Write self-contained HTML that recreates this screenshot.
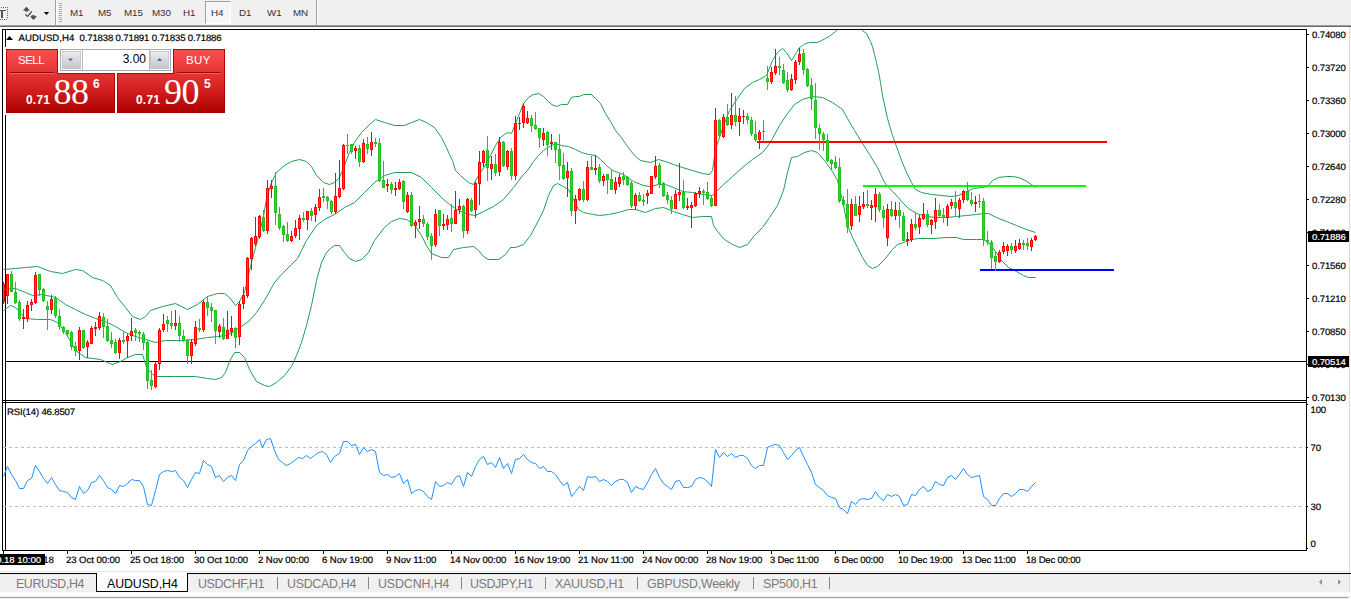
<!DOCTYPE html>
<html lang="en">
<head>
<meta charset="utf-8">
<title>AUDUSD,H4</title>
<style>
html,body{margin:0;padding:0;}
body{width:1351px;height:599px;overflow:hidden;background:#f0f0f0;position:relative;font-family:"Liberation Sans",Arial,sans-serif;}
.abs{position:absolute;}
#toolbar{left:0;top:0;width:1351px;height:25px;background:#f0f0f0;}
#tb-l1{left:0;top:25px;width:1351px;height:1px;background:#a0a0a0;}
#tb-l2{left:0;top:26px;width:1351px;height:1px;background:#696969;}
#white{left:0;top:27px;width:1349px;height:547px;background:#fff;}
#rgt{left:1349px;top:27px;width:1px;height:566px;background:#dcdcdc;}
#rgt2{left:1350px;top:27px;width:1px;height:572px;background:#fafafa;}
.tf{position:absolute;top:7.4px;font-size:9.8px;letter-spacing:-0.1px;color:#333;line-height:11px;white-space:nowrap;}
.vsep{position:absolute;top:0;width:1px;height:25px;background:#a0a0a0;}
.vsepw{position:absolute;top:0;width:1px;height:25px;background:#fff;}
#h4btn{left:205px;top:1px;width:24px;height:21px;border-top:1px solid #a0a0a0;border-left:1px solid #a0a0a0;border-right:1px solid #fff;border-bottom:1px solid #fff;background:#f6f6f6;box-sizing:content-box;}
#grip{left:59px;top:3px;width:3px;height:19px;background:repeating-linear-gradient(to bottom,#a8a8a8 0,#a8a8a8 1px,#f4f4f4 1px,#f4f4f4 2px);}
/* trade panel */
#pwhite{left:3px;top:47px;width:224px;height:68px;background:#fff;}
.red{background:linear-gradient(to bottom,#fb5252 0px,#e63434 24px,#d42020 40px,#ae0000 64px);background-size:100% 64px;}
#sellTab{left:6px;top:49px;width:52px;height:24px;}
#buyTab{left:173px;top:49px;width:52px;height:24px;}
#sellBlk{left:6px;top:73px;width:109px;height:40px;background-position:0 -24px;}
#buyBlk{left:117px;top:73px;width:108px;height:40px;background-position:0 -24px;}
.ptxt{position:absolute;color:#fff;white-space:nowrap;}
#vol{left:60px;top:49px;width:109px;height:20px;border:1px solid #a8a8b0;background:#fff;}
.spin{position:absolute;top:1px;width:19px;height:18px;background:linear-gradient(to bottom,#ececec,#c6c6c6);border:1px solid #c8c8c8;box-sizing:border-box;}
/* tab bar */
#tabbar{left:0;top:574px;width:1349px;height:25px;background:#f0f0f0;}
#tabline{left:0;top:573px;width:1351px;height:1px;background:#000;}
#tabtop{left:0;top:571px;width:1349px;height:1px;background:#e4e4e4;}
#acttab{left:96px;top:573px;width:90px;height:18px;background:#fff;border-left:1px solid #000;border-right:1px solid #000;border-bottom:1px solid #000;}
.tab{position:absolute;top:577px;font-size:12.4px;letter-spacing:-0.42px;color:#7b7b7b;line-height:14px;white-space:nowrap;}
.tsep{position:absolute;top:577px;width:1px;height:12px;background:#8a8a8a;}
#bl1{left:0;top:592px;width:1351px;height:5px;background:linear-gradient(#f6f6f6 0,#fdfdfd 1px,#fdfdfd 4px,#e0e0e0 5px);}
#bl2{left:0;top:597px;width:1348px;height:1px;background:#a0a0a0;}
#bl3{left:0;top:598px;width:1348px;height:1px;background:#f0f0f0;}
</style>
</head>
<body>
<div id="toolbar" class="abs">
  <svg class="abs" style="left:0;top:6px" width="10" height="16" viewBox="0 0 10 16" shape-rendering="crispEdges">
    <rect x="0" y="4" width="6" height="1" fill="#555"/><rect x="1" y="4" width="2" height="8" fill="#555"/>
    <g fill="#666"><rect x="1" y="1" width="1" height="1"/><rect x="3" y="1" width="1" height="1"/><rect x="5" y="1" width="1" height="1"/><rect x="7" y="1" width="1" height="1"/>
    <rect x="7" y="3" width="1" height="1"/><rect x="7" y="5" width="1" height="1"/><rect x="7" y="7" width="1" height="1"/><rect x="7" y="9" width="1" height="1"/><rect x="7" y="11" width="1" height="1"/>
    <rect x="0" y="13" width="1" height="1"/><rect x="2" y="13" width="1" height="1"/><rect x="4" y="13" width="1" height="1"/><rect x="6" y="13" width="1" height="1"/></g>
  </svg>
  <svg class="abs" style="left:22px;top:6px" width="30" height="16" viewBox="0 0 30 16">
    <polygon points="4.4,0.7 8,4.5 6,4.5 6,5.5 2.9,5.5 2.9,4.5 0.9,4.5" fill="#505050"/>
    <polygon points="11.3,14 15.1,10.2 13,10.2 13,9.2 9.5,9.2 9.5,10.2 8,10.2" fill="#505050"/>
    <polyline points="3.1,8.4 5.6,10.4 9.8,5.3" fill="none" stroke="#444" stroke-width="1.2"/>
    <polygon points="21.8,6 27.1,6 24.5,9" fill="#000"/>
  </svg>
  <div class="vsep" style="left:55px"></div><div class="vsepw" style="left:56px"></div>
  <div id="grip" class="abs"></div>
  <div id="h4btn" class="abs"></div>
  <span class="tf" style="left:70px">M1</span>
  <span class="tf" style="left:98px">M5</span>
  <span class="tf" style="left:124px">M15</span>
  <span class="tf" style="left:152px">M30</span>
  <span class="tf" style="left:183px">H1</span>
  <span class="tf" style="left:211px">H4</span>
  <span class="tf" style="left:239px">D1</span>
  <span class="tf" style="left:267px">W1</span>
  <span class="tf" style="left:293px">MN</span>
  <div class="vsep" style="left:316px"></div><div class="vsepw" style="left:317px"></div>
</div>
<div id="tb-l1" class="abs"></div><div id="tb-l2" class="abs"></div>
<div id="white" class="abs"></div><div id="rgt" class="abs"></div><div id="rgt2" class="abs"></div>
<svg id="chart" width="1351" height="599" viewBox="0 0 1351 599" style="position:absolute;left:0;top:0">
<defs><clipPath id="cm"><rect x="3" y="30" width="1303" height="370"/></clipPath><clipPath id="cr"><rect x="3" y="403" width="1303" height="147"/></clipPath></defs>
<g shape-rendering="crispEdges" fill="#000">
<rect x="2" y="29" width="1305" height="1"/>
<rect x="2" y="29" width="1" height="522"/>
<rect x="1306" y="29" width="1" height="522"/>
<rect x="2" y="400" width="1305" height="1"/>
<rect x="2" y="402" width="1305" height="1"/>
<rect x="2" y="550" width="1305" height="1"/>
<rect x="5" y="29" width="1" height="522"/>
<rect x="6" y="361" width="1301" height="1"/>
</g>
<g stroke="#c0c0c0" stroke-width="1" stroke-dasharray="3,3" shape-rendering="crispEdges"><line x1="3" y1="447.5" x2="1306" y2="447.5"/><line x1="3" y1="506.5" x2="1306" y2="506.5"/></g>
<polyline clip-path="url(#cm)" fill="none" stroke="#1fa055" stroke-width="1" stroke-linejoin="round" points="3.5,269.5 15.5,268.5 25.5,267.5 37.5,266.5 50.5,271.5 62.5,273.5 75.5,269.5 82.5,270.5 92.5,277.5 102.5,280.5 110.5,285.5 117.5,297.5 125.5,307.5 132.5,316.5 140.5,319.5 145.5,316.5 150.5,310.5 162.5,306.5 175.5,303.5 187.5,309.5 197.5,304.5 207.5,296.5 217.5,293.5 224.5,293.5 229.5,297.5 235.5,305.5 239.5,301.5 244.5,292.5 249.5,270.5 252.5,258.5 255.5,247.5 259.5,232.5 263.5,216.5 266.5,198.5 271.5,182.5 276.5,172.5 284.5,165.5 291.5,161.5 299.5,159.5 306.5,161.5 311.5,166.5 316.5,175.5 323.5,182.5 329.5,184.5 334.5,182.5 339.5,177.5 344.5,165.5 349.5,152.5 354.5,142.5 361.5,132.5 369.5,124.5 375.5,119.5 384.5,122.5 394.5,125.5 404.5,125.5 411.5,122.5 419.5,119.5 426.5,122.5 434.5,127.5 441.5,137.5 446.5,147.5 449.5,154.5 452.5,160.5 455.5,170.5 460.5,175.5 468.5,182.5 473.5,184.5 478.5,175.5 484.5,166.5 490.5,155.5 495.5,145.5 500.5,137.5 505.5,133.5 508.5,132.5 511.5,133.5 515.5,123.5 519.5,113.5 523.5,103.5 528.5,97.5 533.5,94.5 538.5,93.5 543.5,96.5 548.5,101.5 551.5,104.5 556.5,106.5 561.5,104.5 567.5,104.5 571.5,97.5 575.5,96.5 579.5,96.5 583.5,94.5 591.5,94.5 595.5,98.5 600.5,103.5 605.5,113.5 610.5,121.5 615.5,130.5 620.5,136.5 625.5,143.5 630.5,150.5 635.5,156.5 640.5,160.5 650.5,162.5 658.5,159.5 665.5,161.5 673.5,164.5 682.5,167.5 692.5,170.5 702.5,173.5 709.5,174.5 712.5,170.5 713.5,163.5 715.5,148.5 718.5,140.5 722.5,128.5 729.5,110.5 737.5,98.5 744.5,88.5 752.5,82.5 759.5,79.5 766.5,75.5 772.5,60.5 777.5,52.5 782.5,48.5 786.5,52.5 791.5,60.5 796.5,52.5 799.5,47.5 802.5,45.5 805.5,43.5 810.5,42.5 817.5,42.5 821.5,40.5 825.5,38.5 830.5,35.5 835.5,31.5 837.5,29.5 840.5,26.5 850.5,22.5 858.5,25.5 862.5,30.5 866.5,33.5 870.5,41.5 872.5,46.5 874.5,54.5 876.5,62.5 878.5,71.5 880.5,82.5 882.5,95.5 887.5,118.5 892.5,135.5 896.5,146.5 901.5,160.5 906.5,172.5 911.5,182.5 915.5,189.5 921.5,192.5 931.5,194.5 941.5,195.5 951.5,196.5 958.5,195.5 966.5,191.5 973.5,188.5 981.5,187.5 987.5,186.5 992.5,180.5 998.5,177.5 1006.5,176.5 1012.5,176.5 1018.5,177.5 1025.5,180.5 1031.5,184.5 1035.5,187.5"/>
<polyline clip-path="url(#cm)" fill="none" stroke="#1fa055" stroke-width="1" stroke-linejoin="round" points="3.5,289.5 15.5,288.5 25.5,292.5 32.5,295.5 42.5,294.5 55.5,297.5 65.5,304.5 75.5,309.5 85.5,314.5 95.5,318.5 105.5,321.5 115.5,326.5 125.5,332.5 135.5,336.5 145.5,339.5 155.5,342.5 165.5,340.5 180.5,340.5 195.5,339.5 207.5,337.5 217.5,336.5 225.5,335.5 232.5,332.5 239.5,327.5 241.5,326.5 249.5,320.5 256.5,312.5 264.5,300.5 274.5,282.5 281.5,274.5 291.5,264.5 297.5,258.5 301.5,250.5 306.5,240.5 316.5,225.5 324.5,219.5 334.5,214.5 344.5,207.5 354.5,202.5 364.5,192.5 374.5,182.5 384.5,175.5 394.5,172.5 411.5,172.5 421.5,177.5 431.5,187.5 441.5,197.5 449.5,204.5 458.5,210.5 468.5,214.5 475.5,215.5 483.5,211.5 493.5,206.5 503.5,199.5 513.5,187.5 523.5,174.5 527.5,170.5 533.5,161.5 538.5,155.5 543.5,150.5 547.5,147.5 555.5,143.5 561.5,145.5 568.5,146.5 575.5,149.5 581.5,152.5 588.5,154.5 595.5,155.5 600.5,159.5 606.5,165.5 612.5,170.5 623.5,174.5 633.5,181.5 643.5,185.5 650.5,186.5 658.5,184.5 665.5,184.5 673.5,187.5 682.5,191.5 692.5,192.5 702.5,194.5 712.5,195.5 717.5,190.5 722.5,185.5 732.5,176.5 742.5,167.5 752.5,159.5 762.5,152.5 767.5,146.5 772.5,138.5 779.5,125.5 787.5,113.5 794.5,104.5 802.5,99.5 812.5,96.5 822.5,97.5 832.5,102.5 842.5,109.5 847.5,118.5 854.5,130.5 862.5,143.5 869.5,154.5 877.5,167.5 884.5,182.5 892.5,191.5 897.5,196.5 901.5,201.5 908.5,208.5 916.5,213.5 926.5,216.5 936.5,217.5 946.5,217.5 956.5,216.5 966.5,215.5 976.5,214.5 983.5,213.5 988.5,213.5 996.5,217.5 1006.5,221.5 1016.5,225.5 1026.5,229.5 1035.5,232.5"/>
<polyline clip-path="url(#cm)" fill="none" stroke="#1fa055" stroke-width="1" stroke-linejoin="round" points="3.5,310.5 10.5,305.5 15.5,307.5 25.5,318.5 37.5,319.5 50.5,319.5 57.5,322.5 65.5,332.5 75.5,350.5 85.5,357.5 100.5,359.5 107.5,362.5 112.5,364.5 120.5,361.5 127.5,357.5 135.5,354.5 142.5,354.5 146.5,367.5 150.5,372.5 155.5,376.5 175.5,376.5 195.5,376.5 207.5,378.5 215.5,379.5 221.5,377.5 225.5,372.5 229.5,361.5 234.5,352.5 239.5,352.5 244.5,357.5 249.5,369.5 256.5,381.5 264.5,385.5 269.5,386.5 276.5,382.5 284.5,375.5 291.5,366.5 296.5,355.5 301.5,342.5 306.5,325.5 311.5,305.5 316.5,280.5 321.5,262.5 326.5,252.5 330.5,248.5 334.5,245.5 339.5,245.5 344.5,252.5 349.5,258.5 355.5,261.5 361.5,259.5 368.5,252.5 374.5,240.5 384.5,227.5 391.5,221.5 399.5,218.5 406.5,219.5 414.5,224.5 421.5,235.5 426.5,245.5 431.5,253.5 441.5,257.5 448.5,257.5 453.5,249.5 463.5,247.5 473.5,246.5 478.5,250.5 483.5,256.5 488.5,259.5 498.5,259.5 505.5,254.5 510.5,247.5 515.5,247.5 523.5,244.5 530.5,235.5 538.5,220.5 543.5,210.5 548.5,195.5 553.5,185.5 557.5,183.5 563.5,186.5 568.5,189.5 573.5,199.5 578.5,209.5 583.5,212.5 593.5,214.5 599.5,215.5 608.5,214.5 618.5,212.5 628.5,209.5 635.5,209.5 645.5,212.5 655.5,208.5 663.5,207.5 673.5,211.5 682.5,214.5 692.5,217.5 702.5,216.5 711.5,216.5 713.5,225.5 717.5,231.5 724.5,239.5 732.5,244.5 739.5,247.5 747.5,244.5 754.5,235.5 762.5,227.5 769.5,217.5 777.5,205.5 783.5,190.5 787.5,172.5 791.5,157.5 797.5,156.5 804.5,152.5 811.5,150.5 817.5,152.5 824.5,160.5 832.5,171.5 837.5,180.5 842.5,200.5 847.5,225.5 852.5,237.5 857.5,247.5 862.5,257.5 867.5,265.5 872.5,268.5 877.5,266.5 884.5,259.5 892.5,249.5 897.5,244.5 903.5,242.5 911.5,239.5 918.5,238.5 933.5,238.5 946.5,237.5 956.5,237.5 963.5,239.5 976.5,239.5 983.5,239.5 990.5,244.5 995.5,251.5 1001.5,260.5 1008.5,267.5 1016.5,271.5 1023.5,275.5 1028.5,277.5 1035.5,277.5"/>
<g shape-rendering="crispEdges">
<rect x="757" y="141" width="350" height="2" fill="#ff0000"/>
<rect x="863" y="185" width="223" height="2" fill="#00ff00"/>
<rect x="980" y="269" width="134" height="2" fill="#0000ff"/>
</g>
<g shape-rendering="crispEdges" clip-path="url(#cm)">
<rect x="3" y="282" width="1" height="22" fill="#ff0000"/>
<rect x="2" y="284" width="3" height="18" fill="#ff0000"/>
<rect x="3" y="285" width="1" height="16" fill="#ff4500"/>
<rect x="7" y="274" width="1" height="30" fill="#ff0000"/>
<rect x="6" y="274" width="3" height="22" fill="#ff0000"/>
<rect x="7" y="275" width="1" height="20" fill="#ff4500"/>
<rect x="11" y="271" width="1" height="21" fill="#22c022"/>
<rect x="10" y="274" width="3" height="18" fill="#22c022"/>
<rect x="11" y="275" width="1" height="16" fill="#32cd32"/>
<rect x="15" y="282" width="1" height="22" fill="#22c022"/>
<rect x="14" y="292" width="3" height="11" fill="#22c022"/>
<rect x="15" y="293" width="1" height="9" fill="#32cd32"/>
<rect x="19" y="300" width="1" height="21" fill="#22c022"/>
<rect x="18" y="302" width="3" height="17" fill="#22c022"/>
<rect x="19" y="303" width="1" height="15" fill="#32cd32"/>
<rect x="23" y="309" width="1" height="20" fill="#ff0000"/>
<rect x="22" y="317" width="3" height="2" fill="#ff0000"/>
<rect x="27" y="301" width="1" height="21" fill="#ff0000"/>
<rect x="26" y="305" width="3" height="14" fill="#ff0000"/>
<rect x="27" y="306" width="1" height="12" fill="#ff4500"/>
<rect x="31" y="299" width="1" height="12" fill="#ff0000"/>
<rect x="30" y="302" width="3" height="3" fill="#ff0000"/>
<rect x="31" y="303" width="1" height="1" fill="#ff4500"/>
<rect x="35" y="272" width="1" height="32" fill="#ff0000"/>
<rect x="34" y="275" width="3" height="28" fill="#ff0000"/>
<rect x="35" y="276" width="1" height="26" fill="#ff4500"/>
<rect x="39" y="274" width="1" height="22" fill="#22c022"/>
<rect x="38" y="274" width="3" height="16" fill="#22c022"/>
<rect x="39" y="275" width="1" height="14" fill="#32cd32"/>
<rect x="43" y="288" width="1" height="14" fill="#22c022"/>
<rect x="42" y="289" width="3" height="12" fill="#22c022"/>
<rect x="43" y="290" width="1" height="10" fill="#32cd32"/>
<rect x="47" y="301" width="1" height="29" fill="#22c022"/>
<rect x="46" y="306" width="3" height="4" fill="#22c022"/>
<rect x="47" y="307" width="1" height="2" fill="#32cd32"/>
<rect x="51" y="295" width="1" height="19" fill="#ff0000"/>
<rect x="50" y="299" width="3" height="11" fill="#ff0000"/>
<rect x="51" y="300" width="1" height="9" fill="#ff4500"/>
<rect x="55" y="296" width="1" height="22" fill="#22c022"/>
<rect x="54" y="298" width="3" height="18" fill="#22c022"/>
<rect x="55" y="299" width="1" height="16" fill="#32cd32"/>
<rect x="59" y="309" width="1" height="21" fill="#22c022"/>
<rect x="58" y="316" width="3" height="11" fill="#22c022"/>
<rect x="59" y="317" width="1" height="9" fill="#32cd32"/>
<rect x="63" y="326" width="1" height="8" fill="#22c022"/>
<rect x="62" y="327" width="3" height="5" fill="#22c022"/>
<rect x="63" y="328" width="1" height="3" fill="#32cd32"/>
<rect x="67" y="330" width="1" height="6" fill="#22c022"/>
<rect x="66" y="330" width="3" height="4" fill="#22c022"/>
<rect x="67" y="331" width="1" height="2" fill="#32cd32"/>
<rect x="71" y="331" width="1" height="19" fill="#22c022"/>
<rect x="70" y="332" width="3" height="15" fill="#22c022"/>
<rect x="71" y="333" width="1" height="13" fill="#32cd32"/>
<rect x="75" y="342" width="1" height="14" fill="#22c022"/>
<rect x="74" y="346" width="3" height="5" fill="#22c022"/>
<rect x="75" y="347" width="1" height="3" fill="#32cd32"/>
<rect x="79" y="327" width="1" height="33" fill="#ff0000"/>
<rect x="78" y="330" width="3" height="21" fill="#ff0000"/>
<rect x="79" y="331" width="1" height="19" fill="#ff4500"/>
<rect x="83" y="330" width="1" height="19" fill="#22c022"/>
<rect x="82" y="330" width="3" height="18" fill="#22c022"/>
<rect x="83" y="331" width="1" height="16" fill="#32cd32"/>
<rect x="87" y="340" width="1" height="18" fill="#ff0000"/>
<rect x="86" y="342" width="3" height="5" fill="#ff0000"/>
<rect x="87" y="343" width="1" height="3" fill="#ff4500"/>
<rect x="91" y="326" width="1" height="18" fill="#ff0000"/>
<rect x="90" y="328" width="3" height="16" fill="#ff0000"/>
<rect x="91" y="329" width="1" height="14" fill="#ff4500"/>
<rect x="95" y="322" width="1" height="14" fill="#ff0000"/>
<rect x="94" y="327" width="3" height="2" fill="#ff0000"/>
<rect x="99" y="312" width="1" height="18" fill="#ff0000"/>
<rect x="98" y="316" width="3" height="12" fill="#ff0000"/>
<rect x="99" y="317" width="1" height="10" fill="#ff4500"/>
<rect x="103" y="313" width="1" height="25" fill="#22c022"/>
<rect x="102" y="317" width="3" height="10" fill="#22c022"/>
<rect x="103" y="318" width="1" height="8" fill="#32cd32"/>
<rect x="107" y="319" width="1" height="23" fill="#22c022"/>
<rect x="106" y="326" width="3" height="15" fill="#22c022"/>
<rect x="107" y="327" width="1" height="13" fill="#32cd32"/>
<rect x="111" y="332" width="1" height="16" fill="#22c022"/>
<rect x="110" y="340" width="3" height="4" fill="#22c022"/>
<rect x="111" y="341" width="1" height="2" fill="#32cd32"/>
<rect x="115" y="339" width="1" height="15" fill="#22c022"/>
<rect x="114" y="342" width="3" height="11" fill="#22c022"/>
<rect x="115" y="343" width="1" height="9" fill="#32cd32"/>
<rect x="119" y="338" width="1" height="21" fill="#ff0000"/>
<rect x="118" y="340" width="3" height="13" fill="#ff0000"/>
<rect x="119" y="341" width="1" height="11" fill="#ff4500"/>
<rect x="123" y="332" width="1" height="12" fill="#22c022"/>
<rect x="122" y="340" width="3" height="2" fill="#22c022"/>
<rect x="127" y="334" width="1" height="24" fill="#ff0000"/>
<rect x="126" y="336" width="3" height="5" fill="#ff0000"/>
<rect x="127" y="337" width="1" height="3" fill="#ff4500"/>
<rect x="131" y="318" width="1" height="23" fill="#ff0000"/>
<rect x="130" y="331" width="3" height="5" fill="#ff0000"/>
<rect x="131" y="332" width="1" height="3" fill="#ff4500"/>
<rect x="135" y="328" width="1" height="13" fill="#22c022"/>
<rect x="134" y="330" width="3" height="3" fill="#22c022"/>
<rect x="135" y="331" width="1" height="1" fill="#32cd32"/>
<rect x="139" y="330" width="1" height="12" fill="#22c022"/>
<rect x="138" y="332" width="3" height="2" fill="#22c022"/>
<rect x="143" y="332" width="1" height="18" fill="#22c022"/>
<rect x="142" y="334" width="3" height="9" fill="#22c022"/>
<rect x="143" y="335" width="1" height="7" fill="#32cd32"/>
<rect x="147" y="341" width="1" height="48" fill="#22c022"/>
<rect x="146" y="342" width="3" height="39" fill="#22c022"/>
<rect x="147" y="343" width="1" height="37" fill="#32cd32"/>
<rect x="151" y="370" width="1" height="20" fill="#22c022"/>
<rect x="150" y="380" width="3" height="6" fill="#22c022"/>
<rect x="151" y="381" width="1" height="4" fill="#32cd32"/>
<rect x="155" y="362" width="1" height="26" fill="#ff0000"/>
<rect x="154" y="364" width="3" height="23" fill="#ff0000"/>
<rect x="155" y="365" width="1" height="21" fill="#ff4500"/>
<rect x="159" y="328" width="1" height="42" fill="#ff0000"/>
<rect x="158" y="330" width="3" height="34" fill="#ff0000"/>
<rect x="159" y="331" width="1" height="32" fill="#ff4500"/>
<rect x="163" y="314" width="1" height="18" fill="#ff0000"/>
<rect x="162" y="324" width="3" height="6" fill="#ff0000"/>
<rect x="163" y="325" width="1" height="4" fill="#ff4500"/>
<rect x="167" y="316" width="1" height="16" fill="#22c022"/>
<rect x="166" y="320" width="3" height="4" fill="#22c022"/>
<rect x="167" y="321" width="1" height="2" fill="#32cd32"/>
<rect x="171" y="311" width="1" height="18" fill="#22c022"/>
<rect x="170" y="323" width="3" height="3" fill="#22c022"/>
<rect x="171" y="324" width="1" height="1" fill="#32cd32"/>
<rect x="175" y="310" width="1" height="20" fill="#ff0000"/>
<rect x="174" y="323" width="3" height="3" fill="#ff0000"/>
<rect x="175" y="324" width="1" height="1" fill="#ff4500"/>
<rect x="179" y="316" width="1" height="26" fill="#22c022"/>
<rect x="178" y="323" width="3" height="13" fill="#22c022"/>
<rect x="179" y="324" width="1" height="11" fill="#32cd32"/>
<rect x="183" y="330" width="1" height="12" fill="#22c022"/>
<rect x="182" y="336" width="3" height="5" fill="#22c022"/>
<rect x="183" y="337" width="1" height="3" fill="#32cd32"/>
<rect x="187" y="339" width="1" height="25" fill="#22c022"/>
<rect x="186" y="340" width="3" height="16" fill="#22c022"/>
<rect x="187" y="341" width="1" height="14" fill="#32cd32"/>
<rect x="191" y="339" width="1" height="25" fill="#ff0000"/>
<rect x="190" y="342" width="3" height="14" fill="#ff0000"/>
<rect x="191" y="343" width="1" height="12" fill="#ff4500"/>
<rect x="195" y="321" width="1" height="25" fill="#ff0000"/>
<rect x="194" y="327" width="3" height="17" fill="#ff0000"/>
<rect x="195" y="328" width="1" height="15" fill="#ff4500"/>
<rect x="199" y="319" width="1" height="13" fill="#22c022"/>
<rect x="198" y="328" width="3" height="2" fill="#22c022"/>
<rect x="203" y="300" width="1" height="32" fill="#ff0000"/>
<rect x="202" y="302" width="3" height="28" fill="#ff0000"/>
<rect x="203" y="303" width="1" height="26" fill="#ff4500"/>
<rect x="207" y="296" width="1" height="20" fill="#22c022"/>
<rect x="206" y="302" width="3" height="6" fill="#22c022"/>
<rect x="207" y="303" width="1" height="4" fill="#32cd32"/>
<rect x="211" y="303" width="1" height="19" fill="#22c022"/>
<rect x="210" y="307" width="3" height="4" fill="#22c022"/>
<rect x="211" y="308" width="1" height="2" fill="#32cd32"/>
<rect x="215" y="310" width="1" height="34" fill="#22c022"/>
<rect x="214" y="310" width="3" height="21" fill="#22c022"/>
<rect x="215" y="311" width="1" height="19" fill="#32cd32"/>
<rect x="219" y="324" width="1" height="14" fill="#ff0000"/>
<rect x="218" y="326" width="3" height="6" fill="#ff0000"/>
<rect x="219" y="327" width="1" height="4" fill="#ff4500"/>
<rect x="223" y="318" width="1" height="22" fill="#22c022"/>
<rect x="222" y="327" width="3" height="12" fill="#22c022"/>
<rect x="223" y="328" width="1" height="10" fill="#32cd32"/>
<rect x="227" y="311" width="1" height="28" fill="#ff0000"/>
<rect x="226" y="330" width="3" height="9" fill="#ff0000"/>
<rect x="227" y="331" width="1" height="7" fill="#ff4500"/>
<rect x="231" y="316" width="1" height="20" fill="#ff0000"/>
<rect x="230" y="328" width="3" height="4" fill="#ff0000"/>
<rect x="231" y="329" width="1" height="2" fill="#ff4500"/>
<rect x="235" y="327" width="1" height="21" fill="#22c022"/>
<rect x="234" y="328" width="3" height="10" fill="#22c022"/>
<rect x="235" y="329" width="1" height="8" fill="#32cd32"/>
<rect x="239" y="301" width="1" height="44" fill="#ff0000"/>
<rect x="238" y="304" width="3" height="33" fill="#ff0000"/>
<rect x="239" y="305" width="1" height="31" fill="#ff4500"/>
<rect x="243" y="287" width="1" height="22" fill="#ff0000"/>
<rect x="242" y="295" width="3" height="9" fill="#ff0000"/>
<rect x="243" y="296" width="1" height="7" fill="#ff4500"/>
<rect x="247" y="257" width="1" height="41" fill="#ff0000"/>
<rect x="246" y="258" width="3" height="38" fill="#ff0000"/>
<rect x="247" y="259" width="1" height="36" fill="#ff4500"/>
<rect x="251" y="237" width="1" height="33" fill="#ff0000"/>
<rect x="250" y="238" width="3" height="21" fill="#ff0000"/>
<rect x="251" y="239" width="1" height="19" fill="#ff4500"/>
<rect x="255" y="217" width="1" height="29" fill="#ff0000"/>
<rect x="254" y="236" width="3" height="8" fill="#ff0000"/>
<rect x="255" y="237" width="1" height="6" fill="#ff4500"/>
<rect x="259" y="215" width="1" height="24" fill="#ff0000"/>
<rect x="258" y="216" width="3" height="21" fill="#ff0000"/>
<rect x="259" y="217" width="1" height="19" fill="#ff4500"/>
<rect x="263" y="210" width="1" height="22" fill="#22c022"/>
<rect x="262" y="217" width="3" height="14" fill="#22c022"/>
<rect x="263" y="218" width="1" height="12" fill="#32cd32"/>
<rect x="267" y="180" width="1" height="54" fill="#ff0000"/>
<rect x="266" y="188" width="3" height="43" fill="#ff0000"/>
<rect x="267" y="189" width="1" height="41" fill="#ff4500"/>
<rect x="271" y="180" width="1" height="18" fill="#ff0000"/>
<rect x="270" y="186" width="3" height="3" fill="#ff0000"/>
<rect x="271" y="187" width="1" height="1" fill="#ff4500"/>
<rect x="275" y="172" width="1" height="53" fill="#22c022"/>
<rect x="274" y="186" width="3" height="27" fill="#22c022"/>
<rect x="275" y="187" width="1" height="25" fill="#32cd32"/>
<rect x="279" y="207" width="1" height="23" fill="#22c022"/>
<rect x="278" y="214" width="3" height="14" fill="#22c022"/>
<rect x="279" y="215" width="1" height="12" fill="#32cd32"/>
<rect x="283" y="225" width="1" height="17" fill="#22c022"/>
<rect x="282" y="226" width="3" height="9" fill="#22c022"/>
<rect x="283" y="227" width="1" height="7" fill="#32cd32"/>
<rect x="287" y="222" width="1" height="20" fill="#22c022"/>
<rect x="286" y="234" width="3" height="7" fill="#22c022"/>
<rect x="287" y="235" width="1" height="5" fill="#32cd32"/>
<rect x="291" y="231" width="1" height="11" fill="#ff0000"/>
<rect x="290" y="236" width="3" height="5" fill="#ff0000"/>
<rect x="291" y="237" width="1" height="3" fill="#ff4500"/>
<rect x="295" y="220" width="1" height="18" fill="#ff0000"/>
<rect x="294" y="228" width="3" height="8" fill="#ff0000"/>
<rect x="295" y="229" width="1" height="6" fill="#ff4500"/>
<rect x="299" y="215" width="1" height="25" fill="#ff0000"/>
<rect x="298" y="218" width="3" height="11" fill="#ff0000"/>
<rect x="299" y="219" width="1" height="9" fill="#ff4500"/>
<rect x="303" y="212" width="1" height="10" fill="#22c022"/>
<rect x="302" y="218" width="3" height="2" fill="#22c022"/>
<rect x="307" y="211" width="1" height="19" fill="#ff0000"/>
<rect x="306" y="211" width="3" height="9" fill="#ff0000"/>
<rect x="307" y="212" width="1" height="7" fill="#ff4500"/>
<rect x="311" y="208" width="1" height="13" fill="#22c022"/>
<rect x="310" y="211" width="3" height="5" fill="#22c022"/>
<rect x="311" y="212" width="1" height="3" fill="#32cd32"/>
<rect x="315" y="204" width="1" height="18" fill="#ff0000"/>
<rect x="314" y="207" width="3" height="8" fill="#ff0000"/>
<rect x="315" y="208" width="1" height="6" fill="#ff4500"/>
<rect x="319" y="189" width="1" height="22" fill="#ff0000"/>
<rect x="318" y="197" width="3" height="11" fill="#ff0000"/>
<rect x="319" y="198" width="1" height="9" fill="#ff4500"/>
<rect x="323" y="188" width="1" height="14" fill="#22c022"/>
<rect x="322" y="196" width="3" height="2" fill="#22c022"/>
<rect x="327" y="196" width="1" height="13" fill="#22c022"/>
<rect x="326" y="197" width="3" height="4" fill="#22c022"/>
<rect x="327" y="198" width="1" height="2" fill="#32cd32"/>
<rect x="331" y="200" width="1" height="14" fill="#22c022"/>
<rect x="330" y="201" width="3" height="11" fill="#22c022"/>
<rect x="331" y="202" width="1" height="9" fill="#32cd32"/>
<rect x="335" y="173" width="1" height="41" fill="#ff0000"/>
<rect x="334" y="196" width="3" height="16" fill="#ff0000"/>
<rect x="335" y="197" width="1" height="14" fill="#ff4500"/>
<rect x="339" y="160" width="1" height="38" fill="#ff0000"/>
<rect x="338" y="188" width="3" height="9" fill="#ff0000"/>
<rect x="339" y="189" width="1" height="7" fill="#ff4500"/>
<rect x="343" y="144" width="1" height="46" fill="#ff0000"/>
<rect x="342" y="145" width="3" height="44" fill="#ff0000"/>
<rect x="343" y="146" width="1" height="42" fill="#ff4500"/>
<rect x="347" y="134" width="1" height="20" fill="#22c022"/>
<rect x="346" y="145" width="3" height="1" fill="#22c022"/>
<rect x="351" y="144" width="1" height="10" fill="#22c022"/>
<rect x="350" y="144" width="3" height="8" fill="#22c022"/>
<rect x="351" y="145" width="1" height="6" fill="#32cd32"/>
<rect x="355" y="146" width="1" height="13" fill="#ff0000"/>
<rect x="354" y="148" width="3" height="3" fill="#ff0000"/>
<rect x="355" y="149" width="1" height="1" fill="#ff4500"/>
<rect x="359" y="145" width="1" height="22" fill="#22c022"/>
<rect x="358" y="148" width="3" height="14" fill="#22c022"/>
<rect x="359" y="149" width="1" height="12" fill="#32cd32"/>
<rect x="363" y="139" width="1" height="24" fill="#ff0000"/>
<rect x="362" y="143" width="3" height="19" fill="#ff0000"/>
<rect x="363" y="144" width="1" height="17" fill="#ff4500"/>
<rect x="367" y="137" width="1" height="17" fill="#22c022"/>
<rect x="366" y="144" width="3" height="5" fill="#22c022"/>
<rect x="367" y="145" width="1" height="3" fill="#32cd32"/>
<rect x="371" y="132" width="1" height="24" fill="#ff0000"/>
<rect x="370" y="142" width="3" height="8" fill="#ff0000"/>
<rect x="371" y="143" width="1" height="6" fill="#ff4500"/>
<rect x="375" y="138" width="1" height="9" fill="#22c022"/>
<rect x="374" y="142" width="3" height="2" fill="#22c022"/>
<rect x="379" y="138" width="1" height="44" fill="#22c022"/>
<rect x="378" y="143" width="3" height="38" fill="#22c022"/>
<rect x="379" y="144" width="1" height="36" fill="#32cd32"/>
<rect x="383" y="161" width="1" height="27" fill="#22c022"/>
<rect x="382" y="180" width="3" height="8" fill="#22c022"/>
<rect x="383" y="181" width="1" height="6" fill="#32cd32"/>
<rect x="387" y="179" width="1" height="13" fill="#ff0000"/>
<rect x="386" y="184" width="3" height="2" fill="#ff0000"/>
<rect x="391" y="182" width="1" height="12" fill="#22c022"/>
<rect x="390" y="184" width="3" height="6" fill="#22c022"/>
<rect x="391" y="185" width="1" height="4" fill="#32cd32"/>
<rect x="395" y="182" width="1" height="14" fill="#ff0000"/>
<rect x="394" y="188" width="3" height="2" fill="#ff0000"/>
<rect x="399" y="179" width="1" height="11" fill="#ff0000"/>
<rect x="398" y="182" width="3" height="7" fill="#ff0000"/>
<rect x="399" y="183" width="1" height="5" fill="#ff4500"/>
<rect x="403" y="180" width="1" height="29" fill="#22c022"/>
<rect x="402" y="181" width="3" height="21" fill="#22c022"/>
<rect x="403" y="182" width="1" height="19" fill="#32cd32"/>
<rect x="407" y="192" width="1" height="21" fill="#ff0000"/>
<rect x="406" y="195" width="3" height="17" fill="#ff0000"/>
<rect x="407" y="196" width="1" height="15" fill="#ff4500"/>
<rect x="411" y="192" width="1" height="35" fill="#22c022"/>
<rect x="410" y="195" width="3" height="31" fill="#22c022"/>
<rect x="411" y="196" width="1" height="29" fill="#32cd32"/>
<rect x="415" y="220" width="1" height="18" fill="#ff0000"/>
<rect x="414" y="222" width="3" height="4" fill="#ff0000"/>
<rect x="415" y="223" width="1" height="2" fill="#ff4500"/>
<rect x="419" y="206" width="1" height="23" fill="#ff0000"/>
<rect x="418" y="219" width="3" height="3" fill="#ff0000"/>
<rect x="419" y="220" width="1" height="1" fill="#ff4500"/>
<rect x="423" y="215" width="1" height="12" fill="#22c022"/>
<rect x="422" y="219" width="3" height="5" fill="#22c022"/>
<rect x="423" y="220" width="1" height="3" fill="#32cd32"/>
<rect x="427" y="222" width="1" height="18" fill="#22c022"/>
<rect x="426" y="224" width="3" height="13" fill="#22c022"/>
<rect x="427" y="225" width="1" height="11" fill="#32cd32"/>
<rect x="431" y="233" width="1" height="27" fill="#22c022"/>
<rect x="430" y="236" width="3" height="10" fill="#22c022"/>
<rect x="431" y="237" width="1" height="8" fill="#32cd32"/>
<rect x="435" y="209" width="1" height="38" fill="#ff0000"/>
<rect x="434" y="214" width="3" height="31" fill="#ff0000"/>
<rect x="435" y="215" width="1" height="29" fill="#ff4500"/>
<rect x="439" y="210" width="1" height="26" fill="#22c022"/>
<rect x="438" y="210" width="3" height="16" fill="#22c022"/>
<rect x="439" y="211" width="1" height="14" fill="#32cd32"/>
<rect x="443" y="214" width="1" height="16" fill="#ff0000"/>
<rect x="442" y="224" width="3" height="2" fill="#ff0000"/>
<rect x="447" y="215" width="1" height="15" fill="#ff0000"/>
<rect x="446" y="219" width="3" height="6" fill="#ff0000"/>
<rect x="447" y="220" width="1" height="4" fill="#ff4500"/>
<rect x="451" y="204" width="1" height="28" fill="#22c022"/>
<rect x="450" y="218" width="3" height="6" fill="#22c022"/>
<rect x="451" y="219" width="1" height="4" fill="#32cd32"/>
<rect x="455" y="191" width="1" height="33" fill="#ff0000"/>
<rect x="454" y="210" width="3" height="14" fill="#ff0000"/>
<rect x="455" y="211" width="1" height="12" fill="#ff4500"/>
<rect x="459" y="199" width="1" height="15" fill="#ff0000"/>
<rect x="458" y="206" width="3" height="4" fill="#ff0000"/>
<rect x="459" y="207" width="1" height="2" fill="#ff4500"/>
<rect x="463" y="205" width="1" height="33" fill="#22c022"/>
<rect x="462" y="206" width="3" height="25" fill="#22c022"/>
<rect x="463" y="207" width="1" height="23" fill="#32cd32"/>
<rect x="467" y="198" width="1" height="36" fill="#ff0000"/>
<rect x="466" y="199" width="3" height="32" fill="#ff0000"/>
<rect x="467" y="200" width="1" height="30" fill="#ff4500"/>
<rect x="471" y="198" width="1" height="14" fill="#22c022"/>
<rect x="470" y="200" width="3" height="11" fill="#22c022"/>
<rect x="471" y="201" width="1" height="9" fill="#32cd32"/>
<rect x="475" y="182" width="1" height="36" fill="#ff0000"/>
<rect x="474" y="183" width="3" height="27" fill="#ff0000"/>
<rect x="475" y="184" width="1" height="25" fill="#ff4500"/>
<rect x="479" y="151" width="1" height="54" fill="#ff0000"/>
<rect x="478" y="162" width="3" height="22" fill="#ff0000"/>
<rect x="479" y="163" width="1" height="20" fill="#ff4500"/>
<rect x="483" y="150" width="1" height="17" fill="#ff0000"/>
<rect x="482" y="151" width="3" height="12" fill="#ff0000"/>
<rect x="483" y="152" width="1" height="10" fill="#ff4500"/>
<rect x="487" y="136" width="1" height="45" fill="#22c022"/>
<rect x="486" y="150" width="3" height="18" fill="#22c022"/>
<rect x="487" y="151" width="1" height="16" fill="#32cd32"/>
<rect x="491" y="156" width="1" height="24" fill="#ff0000"/>
<rect x="490" y="164" width="3" height="5" fill="#ff0000"/>
<rect x="491" y="165" width="1" height="3" fill="#ff4500"/>
<rect x="495" y="154" width="1" height="22" fill="#22c022"/>
<rect x="494" y="164" width="3" height="9" fill="#22c022"/>
<rect x="495" y="165" width="1" height="7" fill="#32cd32"/>
<rect x="499" y="137" width="1" height="39" fill="#ff0000"/>
<rect x="498" y="142" width="3" height="30" fill="#ff0000"/>
<rect x="499" y="143" width="1" height="28" fill="#ff4500"/>
<rect x="503" y="141" width="1" height="26" fill="#22c022"/>
<rect x="502" y="142" width="3" height="24" fill="#22c022"/>
<rect x="503" y="143" width="1" height="22" fill="#32cd32"/>
<rect x="507" y="150" width="1" height="20" fill="#ff0000"/>
<rect x="506" y="151" width="3" height="16" fill="#ff0000"/>
<rect x="507" y="152" width="1" height="14" fill="#ff4500"/>
<rect x="511" y="148" width="1" height="32" fill="#22c022"/>
<rect x="510" y="151" width="3" height="25" fill="#22c022"/>
<rect x="511" y="152" width="1" height="23" fill="#32cd32"/>
<rect x="515" y="116" width="1" height="64" fill="#ff0000"/>
<rect x="514" y="123" width="3" height="53" fill="#ff0000"/>
<rect x="515" y="124" width="1" height="51" fill="#ff4500"/>
<rect x="519" y="117" width="1" height="13" fill="#ff0000"/>
<rect x="518" y="123" width="3" height="1" fill="#ff0000"/>
<rect x="523" y="103" width="1" height="25" fill="#ff0000"/>
<rect x="522" y="106" width="3" height="17" fill="#ff0000"/>
<rect x="523" y="107" width="1" height="15" fill="#ff4500"/>
<rect x="527" y="111" width="1" height="13" fill="#ff0000"/>
<rect x="526" y="118" width="3" height="5" fill="#ff0000"/>
<rect x="527" y="119" width="1" height="3" fill="#ff4500"/>
<rect x="531" y="115" width="1" height="17" fill="#22c022"/>
<rect x="530" y="118" width="3" height="8" fill="#22c022"/>
<rect x="531" y="119" width="1" height="6" fill="#32cd32"/>
<rect x="535" y="112" width="1" height="18" fill="#22c022"/>
<rect x="534" y="125" width="3" height="4" fill="#22c022"/>
<rect x="535" y="126" width="1" height="2" fill="#32cd32"/>
<rect x="539" y="128" width="1" height="20" fill="#22c022"/>
<rect x="538" y="128" width="3" height="10" fill="#22c022"/>
<rect x="539" y="129" width="1" height="8" fill="#32cd32"/>
<rect x="543" y="128" width="1" height="18" fill="#ff0000"/>
<rect x="542" y="133" width="3" height="7" fill="#ff0000"/>
<rect x="543" y="134" width="1" height="5" fill="#ff4500"/>
<rect x="547" y="131" width="1" height="25" fill="#22c022"/>
<rect x="546" y="132" width="3" height="13" fill="#22c022"/>
<rect x="547" y="133" width="1" height="11" fill="#32cd32"/>
<rect x="551" y="134" width="1" height="16" fill="#ff0000"/>
<rect x="550" y="142" width="3" height="2" fill="#ff0000"/>
<rect x="555" y="142" width="1" height="21" fill="#22c022"/>
<rect x="554" y="142" width="3" height="8" fill="#22c022"/>
<rect x="555" y="143" width="1" height="6" fill="#32cd32"/>
<rect x="559" y="134" width="1" height="46" fill="#22c022"/>
<rect x="558" y="149" width="3" height="17" fill="#22c022"/>
<rect x="559" y="150" width="1" height="15" fill="#32cd32"/>
<rect x="563" y="153" width="1" height="27" fill="#22c022"/>
<rect x="562" y="165" width="3" height="14" fill="#22c022"/>
<rect x="563" y="166" width="1" height="12" fill="#32cd32"/>
<rect x="567" y="162" width="1" height="35" fill="#ff0000"/>
<rect x="566" y="171" width="3" height="7" fill="#ff0000"/>
<rect x="567" y="172" width="1" height="5" fill="#ff4500"/>
<rect x="571" y="168" width="1" height="48" fill="#22c022"/>
<rect x="570" y="171" width="3" height="40" fill="#22c022"/>
<rect x="571" y="172" width="1" height="38" fill="#32cd32"/>
<rect x="575" y="195" width="1" height="29" fill="#ff0000"/>
<rect x="574" y="199" width="3" height="12" fill="#ff0000"/>
<rect x="575" y="200" width="1" height="10" fill="#ff4500"/>
<rect x="579" y="188" width="1" height="13" fill="#ff0000"/>
<rect x="578" y="189" width="3" height="11" fill="#ff0000"/>
<rect x="579" y="190" width="1" height="9" fill="#ff4500"/>
<rect x="583" y="181" width="1" height="21" fill="#22c022"/>
<rect x="582" y="189" width="3" height="11" fill="#22c022"/>
<rect x="583" y="190" width="1" height="9" fill="#32cd32"/>
<rect x="587" y="161" width="1" height="40" fill="#ff0000"/>
<rect x="586" y="167" width="3" height="33" fill="#ff0000"/>
<rect x="587" y="168" width="1" height="31" fill="#ff4500"/>
<rect x="591" y="156" width="1" height="14" fill="#22c022"/>
<rect x="590" y="167" width="3" height="3" fill="#22c022"/>
<rect x="591" y="168" width="1" height="1" fill="#32cd32"/>
<rect x="595" y="155" width="1" height="20" fill="#ff0000"/>
<rect x="594" y="168" width="3" height="2" fill="#ff0000"/>
<rect x="599" y="164" width="1" height="19" fill="#22c022"/>
<rect x="598" y="167" width="3" height="14" fill="#22c022"/>
<rect x="599" y="168" width="1" height="12" fill="#32cd32"/>
<rect x="603" y="174" width="1" height="12" fill="#ff0000"/>
<rect x="602" y="176" width="3" height="5" fill="#ff0000"/>
<rect x="603" y="177" width="1" height="3" fill="#ff4500"/>
<rect x="607" y="174" width="1" height="20" fill="#22c022"/>
<rect x="606" y="174" width="3" height="6" fill="#22c022"/>
<rect x="607" y="175" width="1" height="4" fill="#32cd32"/>
<rect x="611" y="170" width="1" height="20" fill="#22c022"/>
<rect x="610" y="179" width="3" height="11" fill="#22c022"/>
<rect x="611" y="180" width="1" height="9" fill="#32cd32"/>
<rect x="615" y="177" width="1" height="17" fill="#ff0000"/>
<rect x="614" y="182" width="3" height="8" fill="#ff0000"/>
<rect x="615" y="183" width="1" height="6" fill="#ff4500"/>
<rect x="619" y="174" width="1" height="13" fill="#ff0000"/>
<rect x="618" y="177" width="3" height="7" fill="#ff0000"/>
<rect x="619" y="178" width="1" height="5" fill="#ff4500"/>
<rect x="623" y="172" width="1" height="13" fill="#22c022"/>
<rect x="622" y="176" width="3" height="4" fill="#22c022"/>
<rect x="623" y="177" width="1" height="2" fill="#32cd32"/>
<rect x="627" y="176" width="1" height="10" fill="#22c022"/>
<rect x="626" y="177" width="3" height="8" fill="#22c022"/>
<rect x="627" y="178" width="1" height="6" fill="#32cd32"/>
<rect x="631" y="181" width="1" height="27" fill="#22c022"/>
<rect x="630" y="183" width="3" height="23" fill="#22c022"/>
<rect x="631" y="184" width="1" height="21" fill="#32cd32"/>
<rect x="635" y="193" width="1" height="17" fill="#ff0000"/>
<rect x="634" y="195" width="3" height="11" fill="#ff0000"/>
<rect x="635" y="196" width="1" height="9" fill="#ff4500"/>
<rect x="639" y="192" width="1" height="10" fill="#22c022"/>
<rect x="638" y="195" width="3" height="6" fill="#22c022"/>
<rect x="639" y="196" width="1" height="4" fill="#32cd32"/>
<rect x="643" y="194" width="1" height="12" fill="#22c022"/>
<rect x="642" y="200" width="3" height="2" fill="#22c022"/>
<rect x="647" y="190" width="1" height="14" fill="#ff0000"/>
<rect x="646" y="193" width="3" height="3" fill="#ff0000"/>
<rect x="647" y="194" width="1" height="1" fill="#ff4500"/>
<rect x="651" y="176" width="1" height="18" fill="#ff0000"/>
<rect x="650" y="176" width="3" height="18" fill="#ff0000"/>
<rect x="651" y="177" width="1" height="16" fill="#ff4500"/>
<rect x="655" y="156" width="1" height="23" fill="#ff0000"/>
<rect x="654" y="166" width="3" height="11" fill="#ff0000"/>
<rect x="655" y="167" width="1" height="9" fill="#ff4500"/>
<rect x="659" y="163" width="1" height="25" fill="#22c022"/>
<rect x="658" y="165" width="3" height="19" fill="#22c022"/>
<rect x="659" y="166" width="1" height="17" fill="#32cd32"/>
<rect x="663" y="182" width="1" height="15" fill="#22c022"/>
<rect x="662" y="183" width="3" height="13" fill="#22c022"/>
<rect x="663" y="184" width="1" height="11" fill="#32cd32"/>
<rect x="667" y="192" width="1" height="12" fill="#22c022"/>
<rect x="666" y="195" width="3" height="5" fill="#22c022"/>
<rect x="667" y="196" width="1" height="3" fill="#32cd32"/>
<rect x="671" y="196" width="1" height="18" fill="#22c022"/>
<rect x="670" y="200" width="3" height="9" fill="#22c022"/>
<rect x="671" y="201" width="1" height="7" fill="#32cd32"/>
<rect x="675" y="190" width="1" height="19" fill="#ff0000"/>
<rect x="674" y="194" width="3" height="15" fill="#ff0000"/>
<rect x="675" y="195" width="1" height="13" fill="#ff4500"/>
<rect x="679" y="163" width="1" height="38" fill="#ff0000"/>
<rect x="678" y="192" width="3" height="3" fill="#ff0000"/>
<rect x="679" y="193" width="1" height="1" fill="#ff4500"/>
<rect x="683" y="180" width="1" height="29" fill="#22c022"/>
<rect x="682" y="192" width="3" height="16" fill="#22c022"/>
<rect x="683" y="193" width="1" height="14" fill="#32cd32"/>
<rect x="687" y="198" width="1" height="12" fill="#ff0000"/>
<rect x="686" y="206" width="3" height="2" fill="#ff0000"/>
<rect x="691" y="202" width="1" height="26" fill="#ff0000"/>
<rect x="690" y="205" width="3" height="3" fill="#ff0000"/>
<rect x="691" y="206" width="1" height="1" fill="#ff4500"/>
<rect x="695" y="192" width="1" height="15" fill="#ff0000"/>
<rect x="694" y="193" width="3" height="13" fill="#ff0000"/>
<rect x="695" y="194" width="1" height="11" fill="#ff4500"/>
<rect x="699" y="187" width="1" height="11" fill="#ff0000"/>
<rect x="698" y="191" width="3" height="3" fill="#ff0000"/>
<rect x="699" y="192" width="1" height="1" fill="#ff4500"/>
<rect x="703" y="189" width="1" height="16" fill="#22c022"/>
<rect x="702" y="191" width="3" height="2" fill="#22c022"/>
<rect x="707" y="182" width="1" height="18" fill="#22c022"/>
<rect x="706" y="192" width="3" height="7" fill="#22c022"/>
<rect x="707" y="193" width="1" height="5" fill="#32cd32"/>
<rect x="711" y="196" width="1" height="11" fill="#22c022"/>
<rect x="710" y="198" width="3" height="8" fill="#22c022"/>
<rect x="711" y="199" width="1" height="6" fill="#32cd32"/>
<rect x="715" y="108" width="1" height="98" fill="#ff0000"/>
<rect x="714" y="120" width="3" height="86" fill="#ff0000"/>
<rect x="715" y="121" width="1" height="84" fill="#ff4500"/>
<rect x="719" y="119" width="1" height="20" fill="#22c022"/>
<rect x="718" y="120" width="3" height="16" fill="#22c022"/>
<rect x="719" y="121" width="1" height="14" fill="#32cd32"/>
<rect x="723" y="114" width="1" height="24" fill="#ff0000"/>
<rect x="722" y="117" width="3" height="20" fill="#ff0000"/>
<rect x="723" y="118" width="1" height="18" fill="#ff4500"/>
<rect x="727" y="104" width="1" height="22" fill="#22c022"/>
<rect x="726" y="117" width="3" height="8" fill="#22c022"/>
<rect x="727" y="118" width="1" height="6" fill="#32cd32"/>
<rect x="731" y="93" width="1" height="36" fill="#ff0000"/>
<rect x="730" y="115" width="3" height="10" fill="#ff0000"/>
<rect x="731" y="116" width="1" height="8" fill="#ff4500"/>
<rect x="735" y="96" width="1" height="30" fill="#22c022"/>
<rect x="734" y="115" width="3" height="7" fill="#22c022"/>
<rect x="735" y="116" width="1" height="5" fill="#32cd32"/>
<rect x="739" y="108" width="1" height="28" fill="#ff0000"/>
<rect x="738" y="116" width="3" height="6" fill="#ff0000"/>
<rect x="739" y="117" width="1" height="4" fill="#ff4500"/>
<rect x="743" y="110" width="1" height="14" fill="#ff0000"/>
<rect x="742" y="116" width="3" height="1" fill="#ff0000"/>
<rect x="747" y="113" width="1" height="11" fill="#22c022"/>
<rect x="746" y="116" width="3" height="4" fill="#22c022"/>
<rect x="747" y="117" width="1" height="2" fill="#32cd32"/>
<rect x="751" y="117" width="1" height="19" fill="#22c022"/>
<rect x="750" y="120" width="3" height="14" fill="#22c022"/>
<rect x="751" y="121" width="1" height="12" fill="#32cd32"/>
<rect x="755" y="121" width="1" height="21" fill="#22c022"/>
<rect x="754" y="134" width="3" height="6" fill="#22c022"/>
<rect x="755" y="135" width="1" height="4" fill="#32cd32"/>
<rect x="759" y="130" width="1" height="19" fill="#ff0000"/>
<rect x="758" y="132" width="3" height="8" fill="#ff0000"/>
<rect x="759" y="133" width="1" height="6" fill="#ff4500"/>
<rect x="763" y="120" width="1" height="22" fill="#22c022"/>
<rect x="762" y="131" width="3" height="1" fill="#22c022"/>
<rect x="767" y="66" width="1" height="24" fill="#22c022"/>
<rect x="766" y="78" width="3" height="4" fill="#22c022"/>
<rect x="767" y="79" width="1" height="2" fill="#32cd32"/>
<rect x="771" y="67" width="1" height="17" fill="#ff0000"/>
<rect x="770" y="72" width="3" height="10" fill="#ff0000"/>
<rect x="771" y="73" width="1" height="8" fill="#ff4500"/>
<rect x="775" y="49" width="1" height="26" fill="#ff0000"/>
<rect x="774" y="66" width="3" height="7" fill="#ff0000"/>
<rect x="775" y="67" width="1" height="5" fill="#ff4500"/>
<rect x="779" y="57" width="1" height="18" fill="#22c022"/>
<rect x="778" y="66" width="3" height="2" fill="#22c022"/>
<rect x="783" y="64" width="1" height="20" fill="#22c022"/>
<rect x="782" y="70" width="3" height="13" fill="#22c022"/>
<rect x="783" y="71" width="1" height="11" fill="#32cd32"/>
<rect x="787" y="72" width="1" height="20" fill="#22c022"/>
<rect x="786" y="80" width="3" height="10" fill="#22c022"/>
<rect x="787" y="81" width="1" height="8" fill="#32cd32"/>
<rect x="791" y="74" width="1" height="17" fill="#ff0000"/>
<rect x="790" y="79" width="3" height="11" fill="#ff0000"/>
<rect x="791" y="80" width="1" height="9" fill="#ff4500"/>
<rect x="795" y="60" width="1" height="24" fill="#ff0000"/>
<rect x="794" y="62" width="3" height="18" fill="#ff0000"/>
<rect x="795" y="63" width="1" height="16" fill="#ff4500"/>
<rect x="799" y="48" width="1" height="17" fill="#ff0000"/>
<rect x="798" y="54" width="3" height="8" fill="#ff0000"/>
<rect x="799" y="55" width="1" height="6" fill="#ff4500"/>
<rect x="803" y="49" width="1" height="26" fill="#22c022"/>
<rect x="802" y="53" width="3" height="17" fill="#22c022"/>
<rect x="803" y="54" width="1" height="15" fill="#32cd32"/>
<rect x="807" y="68" width="1" height="19" fill="#22c022"/>
<rect x="806" y="69" width="3" height="17" fill="#22c022"/>
<rect x="807" y="70" width="1" height="15" fill="#32cd32"/>
<rect x="811" y="78" width="1" height="32" fill="#22c022"/>
<rect x="810" y="85" width="3" height="14" fill="#22c022"/>
<rect x="811" y="86" width="1" height="12" fill="#32cd32"/>
<rect x="815" y="83" width="1" height="56" fill="#22c022"/>
<rect x="814" y="100" width="3" height="28" fill="#22c022"/>
<rect x="815" y="101" width="1" height="26" fill="#32cd32"/>
<rect x="819" y="124" width="1" height="26" fill="#22c022"/>
<rect x="818" y="128" width="3" height="6" fill="#22c022"/>
<rect x="819" y="129" width="1" height="4" fill="#32cd32"/>
<rect x="823" y="132" width="1" height="19" fill="#22c022"/>
<rect x="822" y="134" width="3" height="6" fill="#22c022"/>
<rect x="823" y="135" width="1" height="4" fill="#32cd32"/>
<rect x="827" y="134" width="1" height="28" fill="#22c022"/>
<rect x="826" y="140" width="3" height="21" fill="#22c022"/>
<rect x="827" y="141" width="1" height="19" fill="#32cd32"/>
<rect x="831" y="159" width="1" height="11" fill="#22c022"/>
<rect x="830" y="160" width="3" height="4" fill="#22c022"/>
<rect x="831" y="161" width="1" height="2" fill="#32cd32"/>
<rect x="835" y="156" width="1" height="13" fill="#22c022"/>
<rect x="834" y="162" width="3" height="6" fill="#22c022"/>
<rect x="835" y="163" width="1" height="4" fill="#32cd32"/>
<rect x="839" y="158" width="1" height="45" fill="#22c022"/>
<rect x="838" y="167" width="3" height="34" fill="#22c022"/>
<rect x="839" y="168" width="1" height="32" fill="#32cd32"/>
<rect x="843" y="196" width="1" height="10" fill="#22c022"/>
<rect x="842" y="200" width="3" height="5" fill="#22c022"/>
<rect x="843" y="201" width="1" height="3" fill="#32cd32"/>
<rect x="847" y="189" width="1" height="44" fill="#22c022"/>
<rect x="846" y="204" width="3" height="23" fill="#22c022"/>
<rect x="847" y="205" width="1" height="21" fill="#32cd32"/>
<rect x="851" y="199" width="1" height="31" fill="#ff0000"/>
<rect x="850" y="204" width="3" height="22" fill="#ff0000"/>
<rect x="851" y="205" width="1" height="20" fill="#ff4500"/>
<rect x="855" y="196" width="1" height="20" fill="#22c022"/>
<rect x="854" y="204" width="3" height="12" fill="#22c022"/>
<rect x="855" y="205" width="1" height="10" fill="#32cd32"/>
<rect x="859" y="196" width="1" height="26" fill="#ff0000"/>
<rect x="858" y="206" width="3" height="9" fill="#ff0000"/>
<rect x="859" y="207" width="1" height="7" fill="#ff4500"/>
<rect x="863" y="192" width="1" height="17" fill="#ff0000"/>
<rect x="862" y="204" width="3" height="3" fill="#ff0000"/>
<rect x="863" y="205" width="1" height="1" fill="#ff4500"/>
<rect x="867" y="190" width="1" height="18" fill="#22c022"/>
<rect x="866" y="204" width="3" height="2" fill="#22c022"/>
<rect x="871" y="200" width="1" height="20" fill="#ff0000"/>
<rect x="870" y="205" width="3" height="3" fill="#ff0000"/>
<rect x="871" y="206" width="1" height="1" fill="#ff4500"/>
<rect x="875" y="188" width="1" height="34" fill="#ff0000"/>
<rect x="874" y="194" width="3" height="13" fill="#ff0000"/>
<rect x="875" y="195" width="1" height="11" fill="#ff4500"/>
<rect x="879" y="192" width="1" height="20" fill="#22c022"/>
<rect x="878" y="194" width="3" height="16" fill="#22c022"/>
<rect x="879" y="195" width="1" height="14" fill="#32cd32"/>
<rect x="883" y="206" width="1" height="22" fill="#22c022"/>
<rect x="882" y="210" width="3" height="8" fill="#22c022"/>
<rect x="883" y="211" width="1" height="6" fill="#32cd32"/>
<rect x="887" y="204" width="1" height="42" fill="#ff0000"/>
<rect x="886" y="209" width="3" height="29" fill="#ff0000"/>
<rect x="887" y="210" width="1" height="27" fill="#ff4500"/>
<rect x="891" y="201" width="1" height="16" fill="#22c022"/>
<rect x="890" y="209" width="3" height="7" fill="#22c022"/>
<rect x="891" y="210" width="1" height="5" fill="#32cd32"/>
<rect x="895" y="202" width="1" height="18" fill="#ff0000"/>
<rect x="894" y="210" width="3" height="6" fill="#ff0000"/>
<rect x="895" y="211" width="1" height="4" fill="#ff4500"/>
<rect x="899" y="202" width="1" height="26" fill="#22c022"/>
<rect x="898" y="210" width="3" height="6" fill="#22c022"/>
<rect x="899" y="211" width="1" height="4" fill="#32cd32"/>
<rect x="903" y="212" width="1" height="29" fill="#22c022"/>
<rect x="902" y="216" width="3" height="25" fill="#22c022"/>
<rect x="903" y="217" width="1" height="23" fill="#32cd32"/>
<rect x="907" y="232" width="1" height="14" fill="#ff0000"/>
<rect x="906" y="239" width="3" height="2" fill="#ff0000"/>
<rect x="911" y="219" width="1" height="23" fill="#ff0000"/>
<rect x="910" y="224" width="3" height="16" fill="#ff0000"/>
<rect x="911" y="225" width="1" height="14" fill="#ff4500"/>
<rect x="915" y="212" width="1" height="18" fill="#22c022"/>
<rect x="914" y="224" width="3" height="4" fill="#22c022"/>
<rect x="915" y="225" width="1" height="2" fill="#32cd32"/>
<rect x="919" y="215" width="1" height="19" fill="#ff0000"/>
<rect x="918" y="218" width="3" height="9" fill="#ff0000"/>
<rect x="919" y="219" width="1" height="7" fill="#ff4500"/>
<rect x="923" y="203" width="1" height="17" fill="#ff0000"/>
<rect x="922" y="214" width="3" height="5" fill="#ff0000"/>
<rect x="923" y="215" width="1" height="3" fill="#ff4500"/>
<rect x="927" y="210" width="1" height="17" fill="#22c022"/>
<rect x="926" y="214" width="3" height="11" fill="#22c022"/>
<rect x="927" y="215" width="1" height="9" fill="#32cd32"/>
<rect x="931" y="219" width="1" height="15" fill="#ff0000"/>
<rect x="930" y="220" width="3" height="5" fill="#ff0000"/>
<rect x="931" y="221" width="1" height="3" fill="#ff4500"/>
<rect x="935" y="198" width="1" height="31" fill="#ff0000"/>
<rect x="934" y="210" width="3" height="12" fill="#ff0000"/>
<rect x="935" y="211" width="1" height="10" fill="#ff4500"/>
<rect x="939" y="204" width="1" height="14" fill="#22c022"/>
<rect x="938" y="210" width="3" height="6" fill="#22c022"/>
<rect x="939" y="211" width="1" height="4" fill="#32cd32"/>
<rect x="943" y="208" width="1" height="15" fill="#22c022"/>
<rect x="942" y="215" width="3" height="3" fill="#22c022"/>
<rect x="943" y="216" width="1" height="1" fill="#32cd32"/>
<rect x="947" y="204" width="1" height="22" fill="#ff0000"/>
<rect x="946" y="206" width="3" height="12" fill="#ff0000"/>
<rect x="947" y="207" width="1" height="10" fill="#ff4500"/>
<rect x="951" y="199" width="1" height="10" fill="#ff0000"/>
<rect x="950" y="202" width="3" height="4" fill="#ff0000"/>
<rect x="951" y="203" width="1" height="2" fill="#ff4500"/>
<rect x="955" y="191" width="1" height="25" fill="#22c022"/>
<rect x="954" y="202" width="3" height="6" fill="#22c022"/>
<rect x="955" y="203" width="1" height="4" fill="#32cd32"/>
<rect x="959" y="198" width="1" height="20" fill="#ff0000"/>
<rect x="958" y="200" width="3" height="9" fill="#ff0000"/>
<rect x="959" y="201" width="1" height="7" fill="#ff4500"/>
<rect x="963" y="190" width="1" height="13" fill="#ff0000"/>
<rect x="962" y="191" width="3" height="9" fill="#ff0000"/>
<rect x="963" y="192" width="1" height="7" fill="#ff4500"/>
<rect x="967" y="182" width="1" height="19" fill="#22c022"/>
<rect x="966" y="191" width="3" height="9" fill="#22c022"/>
<rect x="967" y="192" width="1" height="7" fill="#32cd32"/>
<rect x="971" y="192" width="1" height="14" fill="#22c022"/>
<rect x="970" y="200" width="3" height="4" fill="#22c022"/>
<rect x="971" y="201" width="1" height="2" fill="#32cd32"/>
<rect x="975" y="196" width="1" height="16" fill="#ff0000"/>
<rect x="974" y="202" width="3" height="2" fill="#ff0000"/>
<rect x="979" y="194" width="1" height="14" fill="#22c022"/>
<rect x="978" y="201" width="3" height="1" fill="#22c022"/>
<rect x="983" y="198" width="1" height="48" fill="#22c022"/>
<rect x="982" y="201" width="3" height="39" fill="#22c022"/>
<rect x="983" y="202" width="1" height="37" fill="#32cd32"/>
<rect x="987" y="231" width="1" height="14" fill="#22c022"/>
<rect x="986" y="240" width="3" height="2" fill="#22c022"/>
<rect x="991" y="240" width="1" height="29" fill="#22c022"/>
<rect x="990" y="242" width="3" height="16" fill="#22c022"/>
<rect x="991" y="243" width="1" height="14" fill="#32cd32"/>
<rect x="995" y="252" width="1" height="19" fill="#22c022"/>
<rect x="994" y="256" width="3" height="6" fill="#22c022"/>
<rect x="995" y="257" width="1" height="4" fill="#32cd32"/>
<rect x="999" y="250" width="1" height="13" fill="#ff0000"/>
<rect x="998" y="252" width="3" height="10" fill="#ff0000"/>
<rect x="999" y="253" width="1" height="8" fill="#ff4500"/>
<rect x="1003" y="242" width="1" height="12" fill="#ff0000"/>
<rect x="1002" y="246" width="3" height="6" fill="#ff0000"/>
<rect x="1003" y="247" width="1" height="4" fill="#ff4500"/>
<rect x="1007" y="244" width="1" height="12" fill="#ff0000"/>
<rect x="1006" y="246" width="3" height="5" fill="#ff0000"/>
<rect x="1007" y="247" width="1" height="3" fill="#ff4500"/>
<rect x="1011" y="243" width="1" height="11" fill="#22c022"/>
<rect x="1010" y="246" width="3" height="4" fill="#22c022"/>
<rect x="1011" y="247" width="1" height="2" fill="#32cd32"/>
<rect x="1015" y="240" width="1" height="13" fill="#ff0000"/>
<rect x="1014" y="246" width="3" height="5" fill="#ff0000"/>
<rect x="1015" y="247" width="1" height="3" fill="#ff4500"/>
<rect x="1019" y="239" width="1" height="11" fill="#ff0000"/>
<rect x="1018" y="243" width="3" height="6" fill="#ff0000"/>
<rect x="1019" y="244" width="1" height="4" fill="#ff4500"/>
<rect x="1023" y="240" width="1" height="10" fill="#22c022"/>
<rect x="1022" y="243" width="3" height="2" fill="#22c022"/>
<rect x="1027" y="238" width="1" height="12" fill="#22c022"/>
<rect x="1026" y="243" width="3" height="3" fill="#22c022"/>
<rect x="1027" y="244" width="1" height="1" fill="#32cd32"/>
<rect x="1031" y="238" width="1" height="13" fill="#ff0000"/>
<rect x="1030" y="240" width="3" height="7" fill="#ff0000"/>
<rect x="1031" y="241" width="1" height="5" fill="#ff4500"/>
<rect x="1035" y="235" width="1" height="6" fill="#ff0000"/>
<rect x="1034" y="236" width="3" height="4" fill="#ff0000"/>
<rect x="1035" y="237" width="1" height="2" fill="#ff4500"/>
</g>
<polyline clip-path="url(#cr)" fill="none" stroke="#1e90ff" stroke-width="1" stroke-linejoin="round" points="3.5,476.5 7.5,466.5 11.5,474.5 15.5,480.5 19.5,488.5 23.5,488.5 27.5,480.5 31.5,478.5 35.5,465.5 39.5,471.5 43.5,478.5 47.5,483.5 51.5,477.5 55.5,484.5 59.5,490.5 63.5,491.5 67.5,492.5 71.5,497.5 75.5,499.5 79.5,486.5 83.5,493.5 87.5,490.5 91.5,482.5 95.5,481.5 99.5,475.5 103.5,480.5 107.5,487.5 111.5,489.5 115.5,493.5 119.5,485.5 123.5,486.5 127.5,483.5 131.5,479.5 135.5,480.5 139.5,480.5 143.5,486.5 147.5,504.5 151.5,505.5 155.5,490.5 159.5,474.5 163.5,471.5 167.5,470.5 171.5,471.5 175.5,470.5 179.5,477.5 183.5,480.5 187.5,487.5 191.5,479.5 195.5,472.5 199.5,473.5 203.5,460.5 207.5,464.5 211.5,466.5 215.5,477.5 219.5,475.5 223.5,481.5 227.5,477.5 231.5,475.5 235.5,480.5 239.5,464.5 243.5,460.5 247.5,450.5 251.5,446.5 255.5,443.5 259.5,439.5 262.5,447.5 266.5,439.5 270.5,438.5 274.5,450.5 278.5,459.5 282.5,462.5 286.5,465.5 290.5,463.5 294.5,460.5 298.5,457.5 302.5,458.5 306.5,455.5 310.5,458.5 314.5,455.5 318.5,452.5 322.5,451.5 326.5,454.5 330.5,462.5 334.5,456.5 339.5,453.5 343.5,441.5 347.5,441.5 351.5,445.5 355.5,444.5 359.5,454.5 363.5,447.5 367.5,451.5 371.5,449.5 375.5,451.5 379.5,472.5 383.5,475.5 387.5,474.5 391.5,477.5 395.5,476.5 399.5,473.5 403.5,483.5 407.5,479.5 411.5,493.5 415.5,490.5 419.5,489.5 423.5,491.5 427.5,496.5 431.5,499.5 435.5,481.5 439.5,486.5 443.5,485.5 447.5,482.5 451.5,484.5 455.5,477.5 459.5,475.5 463.5,486.5 467.5,472.5 471.5,476.5 475.5,466.5 479.5,459.5 483.5,456.5 487.5,464.5 491.5,462.5 495.5,467.5 499.5,457.5 503.5,468.5 507.5,463.5 511.5,473.5 515.5,459.5 519.5,458.5 523.5,454.5 527.5,459.5 531.5,462.5 535.5,463.5 539.5,468.5 543.5,466.5 547.5,471.5 551.5,471.5 555.5,474.5 559.5,480.5 563.5,485.5 567.5,482.5 571.5,496.5 575.5,491.5 579.5,486.5 583.5,490.5 587.5,476.5 591.5,477.5 595.5,476.5 599.5,481.5 603.5,479.5 607.5,481.5 611.5,485.5 615.5,481.5 619.5,479.5 623.5,479.5 627.5,482.5 631.5,492.5 635.5,486.5 639.5,488.5 643.5,489.5 647.5,482.5 651.5,474.5 655.5,468.5 659.5,477.5 663.5,483.5 667.5,486.5 671.5,489.5 675.5,481.5 679.5,480.5 683.5,487.5 687.5,487.5 691.5,486.5 695.5,479.5 699.5,477.5 703.5,478.5 707.5,481.5 711.5,486.5 715.5,449.5 719.5,457.5 723.5,452.5 727.5,456.5 731.5,453.5 735.5,457.5 739.5,455.5 743.5,455.5 747.5,458.5 751.5,465.5 755.5,468.5 759.5,465.5 763.5,465.5 767.5,447.5 771.5,445.5 775.5,444.5 779.5,445.5 783.5,452.5 787.5,459.5 791.5,455.5 795.5,450.5 799.5,447.5 803.5,456.5 807.5,464.5 811.5,472.5 815.5,484.5 819.5,487.5 823.5,490.5 827.5,495.5 831.5,497.5 835.5,498.5 839.5,507.5 843.5,509.5 847.5,513.5 851.5,501.5 855.5,504.5 859.5,499.5 863.5,498.5 867.5,499.5 871.5,498.5 875.5,491.5 879.5,497.5 883.5,500.5 887.5,494.5 891.5,496.5 895.5,494.5 899.5,496.5 903.5,505.5 907.5,504.5 911.5,494.5 915.5,495.5 919.5,489.5 923.5,486.5 927.5,491.5 931.5,489.5 935.5,481.5 939.5,484.5 943.5,485.5 947.5,477.5 951.5,475.5 955.5,479.5 959.5,474.5 963.5,468.5 967.5,474.5 971.5,477.5 975.5,476.5 979.5,475.5 983.5,496.5 987.5,499.5 991.5,505.5 995.5,505.5 999.5,498.5 1003.5,493.5 1007.5,493.5 1011.5,496.5 1015.5,493.5 1019.5,489.5 1023.5,489.5 1027.5,491.5 1031.5,486.5 1035.5,482.5"/>
<g shape-rendering="crispEdges" fill="#000">
<rect x="1307" y="34" width="2" height="1"/>
<rect x="1307" y="67" width="2" height="1"/>
<rect x="1307" y="100" width="2" height="1"/>
<rect x="1307" y="133" width="2" height="1"/>
<rect x="1307" y="166" width="2" height="1"/>
<rect x="1307" y="199" width="2" height="1"/>
<rect x="1307" y="232" width="2" height="1"/>
<rect x="1307" y="265" width="2" height="1"/>
<rect x="1307" y="298" width="2" height="1"/>
<rect x="1307" y="331" width="2" height="1"/>
<rect x="1307" y="364" width="2" height="1"/>
<rect x="1307" y="397" width="2" height="1"/>
<rect x="1307" y="404" width="1" height="1"/>
<rect x="1307" y="447" width="1" height="1"/>
<rect x="1307" y="506" width="1" height="1"/>
<rect x="1307" y="548" width="1" height="1"/>
</g>
<g font-family="Liberation Sans, Arial, sans-serif" font-size="9.3" text-rendering="geometricPrecision" letter-spacing="-0.15" fill="#000">
<text transform="translate(1312,38.0) scale(1.0323,1)" letter-spacing="-0.15" stroke="#000" stroke-width="0.2">0.74080</text>
<text transform="translate(1312,71.0) scale(1.0323,1)" letter-spacing="-0.15" stroke="#000" stroke-width="0.2">0.73720</text>
<text transform="translate(1312,104.0) scale(1.0323,1)" letter-spacing="-0.15" stroke="#000" stroke-width="0.2">0.73360</text>
<text transform="translate(1312,137.0) scale(1.0323,1)" letter-spacing="-0.15" stroke="#000" stroke-width="0.2">0.73000</text>
<text transform="translate(1312,170.0) scale(1.0323,1)" letter-spacing="-0.15" stroke="#000" stroke-width="0.2">0.72640</text>
<text transform="translate(1312,203.0) scale(1.0323,1)" letter-spacing="-0.15" stroke="#000" stroke-width="0.2">0.72280</text>
<text transform="translate(1312,236.0) scale(1.0323,1)" letter-spacing="-0.15" stroke="#000" stroke-width="0.2">0.71920</text>
<text transform="translate(1312,269.0) scale(1.0323,1)" letter-spacing="-0.15" stroke="#000" stroke-width="0.2">0.71560</text>
<text transform="translate(1312,302.0) scale(1.0323,1)" letter-spacing="-0.15" stroke="#000" stroke-width="0.2">0.71210</text>
<text transform="translate(1312,335.0) scale(1.0323,1)" letter-spacing="-0.15" stroke="#000" stroke-width="0.2">0.70850</text>
<text transform="translate(1312,368.0) scale(1.0323,1)" letter-spacing="-0.15" stroke="#000" stroke-width="0.2">0.70490</text>
<text transform="translate(1312,401.0) scale(1.0323,1)" letter-spacing="-0.15" stroke="#000" stroke-width="0.2">0.70130</text>
<text transform="translate(1310.5,413.2) scale(1.0323,1)" letter-spacing="-0.15" stroke="#000" stroke-width="0.2">100</text>
<text transform="translate(1310.5,451.2) scale(1.0323,1)" letter-spacing="-0.15" stroke="#000" stroke-width="0.2">70</text>
<text transform="translate(1310.5,510.2) scale(1.0323,1)" letter-spacing="-0.15" stroke="#000" stroke-width="0.2">30</text>
<text transform="translate(1310.5,547.2) scale(1.0323,1)" letter-spacing="-0.15" stroke="#000" stroke-width="0.2">0</text>
</g>
<rect x="1308" y="231" width="41" height="11" fill="#000" shape-rendering="crispEdges"/>
<rect x="1308" y="356" width="41" height="11" fill="#000" shape-rendering="crispEdges"/>
<g font-family="Liberation Sans, Arial, sans-serif" font-size="9.3" fill="#fff">
<text transform="translate(1312,240.2) scale(1.0323,1)" letter-spacing="-0.15" fill="#fff" stroke="#fff" stroke-width="0.2">0.71886</text>
<text transform="translate(1312,365.2) scale(1.0323,1)" letter-spacing="-0.15" fill="#fff" stroke="#fff" stroke-width="0.2">0.70514</text>
</g>
<g shape-rendering="crispEdges" fill="#000">
<rect x="3" y="551" width="1" height="3"/>
<rect x="67" y="551" width="1" height="3"/>
<rect x="131" y="551" width="1" height="3"/>
<rect x="195" y="551" width="1" height="3"/>
<rect x="259" y="551" width="1" height="3"/>
<rect x="323" y="551" width="1" height="3"/>
<rect x="387" y="551" width="1" height="3"/>
<rect x="451" y="551" width="1" height="3"/>
<rect x="515" y="551" width="1" height="3"/>
<rect x="579" y="551" width="1" height="3"/>
<rect x="643" y="551" width="1" height="3"/>
<rect x="707" y="551" width="1" height="3"/>
<rect x="771" y="551" width="1" height="3"/>
<rect x="835" y="551" width="1" height="3"/>
<rect x="899" y="551" width="1" height="3"/>
<rect x="963" y="551" width="1" height="3"/>
<rect x="1027" y="551" width="1" height="3"/>
</g>
<g font-family="Liberation Sans, Arial, sans-serif" font-size="9.3" text-rendering="geometricPrecision" letter-spacing="-0.05" fill="#000">
<text transform="translate(2,563.2) scale(1.0323,1)" letter-spacing="-0.05" stroke="#000" stroke-width="0.2">18 Oct 2018</text>
<text transform="translate(66,563.2) scale(1.0323,1)" letter-spacing="-0.07" stroke="#000" stroke-width="0.2">23 Oct 00:00</text>
<text transform="translate(130,563.2) scale(1.0323,1)" letter-spacing="-0.07" stroke="#000" stroke-width="0.2">25 Oct 18:00</text>
<text transform="translate(194,563.2) scale(1.0323,1)" letter-spacing="-0.07" stroke="#000" stroke-width="0.2">30 Oct 10:00</text>
<text transform="translate(258,563.2) scale(1.0323,1)" letter-spacing="-0.07" stroke="#000" stroke-width="0.2">2 Nov 00:00</text>
<text transform="translate(322,563.2) scale(1.0323,1)" letter-spacing="-0.07" stroke="#000" stroke-width="0.2">6 Nov 19:00</text>
<text transform="translate(386,563.2) scale(1.0323,1)" letter-spacing="-0.07" stroke="#000" stroke-width="0.2">9 Nov 11:00</text>
<text transform="translate(450,563.2) scale(1.0323,1)" letter-spacing="-0.07" stroke="#000" stroke-width="0.2">14 Nov 00:00</text>
<text transform="translate(514,563.2) scale(1.0323,1)" letter-spacing="-0.07" stroke="#000" stroke-width="0.2">16 Nov 19:00</text>
<text transform="translate(578,563.2) scale(1.0323,1)" letter-spacing="-0.07" stroke="#000" stroke-width="0.2">21 Nov 11:00</text>
<text transform="translate(642,563.2) scale(1.0323,1)" letter-spacing="-0.07" stroke="#000" stroke-width="0.2">24 Nov 00:00</text>
<text transform="translate(706,563.2) scale(1.0323,1)" letter-spacing="-0.07" stroke="#000" stroke-width="0.2">28 Nov 19:00</text>
<text transform="translate(770,563.2) scale(1.0323,1)" letter-spacing="-0.22" stroke="#000" stroke-width="0.2">3 Dec 11:00</text>
<text transform="translate(834,563.2) scale(1.0323,1)" letter-spacing="-0.22" stroke="#000" stroke-width="0.2">6 Dec 00:00</text>
<text transform="translate(898,563.2) scale(1.0323,1)" letter-spacing="-0.22" stroke="#000" stroke-width="0.2">10 Dec 19:00</text>
<text transform="translate(962,563.2) scale(1.0323,1)" letter-spacing="-0.22" stroke="#000" stroke-width="0.2">13 Dec 11:00</text>
<text transform="translate(1026,563.2) scale(1.0323,1)" letter-spacing="-0.22" stroke="#000" stroke-width="0.2">18 Dec 00:00</text>
</g>
<rect x="0" y="554" width="45" height="11" fill="#000" shape-rendering="crispEdges"/>
<g font-family="Liberation Sans, Arial, sans-serif" font-size="9.3">
<text transform="translate(41,563.2) scale(1.0323,1)" letter-spacing="-0.05" text-anchor="end" fill="#fff" stroke="#fff" stroke-width="0.2">2018.10.18 10:00</text>
</g>
<g font-family="Liberation Sans, Arial, sans-serif" font-size="9.3" text-rendering="geometricPrecision" fill="#000">
<text transform="translate(18.5,41.2) scale(1.0323,1)" letter-spacing="0.05" stroke="#000" stroke-width="0.2">AUDUSD,H4</text>
<text transform="translate(79.5,41.2) scale(1.0323,1)" letter-spacing="-0.15" stroke="#000" stroke-width="0.2">0.71838 0.71891 0.71835 0.71886</text>
<text transform="translate(7,414.6) scale(1.0323,1)" letter-spacing="-0.16" stroke="#000" stroke-width="0.2">RSI(14) 46.8507</text>
</g>
<polygon points="6,40 13,40 9.5,36" fill="#000"/>
</svg>
<div id="pwhite" class="abs"></div>
<div id="sellTab" class="abs red"></div>
<div id="buyTab" class="abs red"></div>
<div id="sellBlk" class="abs red"></div>
<div id="buyBlk" class="abs red"></div>
<div class="abs" style="left:6px;top:49px;width:52px;height:1px;background:#c00000"></div>
<div class="abs" style="left:173px;top:49px;width:52px;height:1px;background:#c00000"></div>
<div class="abs" style="left:6px;top:49px;width:1px;height:64px;background:linear-gradient(#c00000,#a00000)"></div>
<div class="abs" style="left:224px;top:49px;width:1px;height:64px;background:linear-gradient(#c00000,#a00000)"></div>
<div class="abs" style="left:57px;top:49px;width:1px;height:25px;background:#c00000"></div>
<div class="abs" style="left:173px;top:49px;width:1px;height:25px;background:#c00000"></div>
<div class="abs" style="left:57px;top:73px;width:58px;height:1px;background:#c00000"></div>
<div class="abs" style="left:117px;top:73px;width:57px;height:1px;background:#c00000"></div>
<div class="abs" style="left:114px;top:73px;width:1px;height:40px;background:linear-gradient(#c00000,#a00000)"></div>
<div class="abs" style="left:117px;top:73px;width:1px;height:40px;background:linear-gradient(#c00000,#a00000)"></div>
<div class="abs" style="left:6px;top:112px;width:109px;height:1px;background:#a40000"></div>
<div class="abs" style="left:117px;top:112px;width:108px;height:1px;background:#a40000"></div>
<div class="abs" style="left:10px;top:72px;width:44px;height:1px;background:#9c0808;"></div>
<div class="abs" style="left:10px;top:73px;width:44px;height:1px;background:#f06060;"></div>
<div class="abs" style="left:177px;top:72px;width:44px;height:1px;background:#9c0808;"></div>
<div class="abs" style="left:177px;top:73px;width:44px;height:1px;background:#f06060;"></div>
<div class="ptxt" style="left:18px;top:54px;font-size:11.5px;line-height:13px;letter-spacing:-0.5px;">SELL</div>
<div class="ptxt" style="left:186px;top:54px;font-size:11.5px;line-height:13px;letter-spacing:0.4px;">BUY</div>
<div id="vol" class="abs">
  <div class="spin" style="left:1px;"><svg width="17" height="16" style="position:absolute;left:0;top:0"><polygon points="5,6.5 10,6.5 7.5,9.3" fill="#4a62c0"/></svg></div>
  <div class="spin" style="left:89px;"><svg width="17" height="16" style="position:absolute;left:0;top:0"><polygon points="6,9 11.2,9 8.6,6" fill="#4a62c0"/></svg></div>
  <div class="abs" style="left:21px;top:0;width:1px;height:20px;background:#b8b8c0;"></div>
  <div class="abs" style="left:88px;top:0;width:1px;height:20px;background:#b8b8c0;"></div>
  <div class="abs" style="right:24px;top:3px;font-size:12px;line-height:13px;color:#000;">3.00</div>
</div>
<div class="ptxt" style="left:26px;top:93.5px;font-size:12px;line-height:12px;font-weight:bold;letter-spacing:0.2px;">0.71</div>
<div class="ptxt" style="left:53.5px;top:71.6px;font-family:'Liberation Serif','Times New Roman',serif;font-size:36px;line-height:40px;letter-spacing:-0.6px;">88</div>
<div class="ptxt" style="left:93px;top:77.5px;font-size:12px;line-height:12px;font-weight:bold;">6</div>
<div class="ptxt" style="left:136px;top:93.5px;font-size:12px;line-height:12px;font-weight:bold;letter-spacing:0.2px;">0.71</div>
<div class="ptxt" style="left:164px;top:71.6px;font-family:'Liberation Serif','Times New Roman',serif;font-size:36px;line-height:40px;letter-spacing:-0.4px;">90</div>
<div class="ptxt" style="left:204px;top:77.5px;font-size:12px;line-height:12px;font-weight:bold;">5</div>
<!-- tab bar -->
<div id="tabbar" class="abs"></div>
<div id="tabtop" class="abs"></div>
<div id="tabline" class="abs"></div>
<div id="acttab" class="abs"></div>
<span class="tab" style="left:16px;letter-spacing:-0.4px">EURUSD,H4</span>
<span class="tab" style="left:107px;color:#000;letter-spacing:-0.1px">AUDUSD,H4</span>
<span class="tab" style="left:198px;letter-spacing:-0.37px">USDCHF,H1</span>
<div class="tsep" style="left:277px"></div>
<span class="tab" style="left:287px;letter-spacing:-0.27px">USDCAD,H4</span>
<div class="tsep" style="left:368px"></div>
<span class="tab" style="left:378px;letter-spacing:-0.11px">USDCNH,H4</span>
<div class="tsep" style="left:461px"></div>
<span class="tab" style="left:470px;letter-spacing:-0.4px">USDJPY,H1</span>
<div class="tsep" style="left:545px"></div>
<span class="tab" style="left:555px;letter-spacing:-0.22px">XAUUSD,H1</span>
<div class="tsep" style="left:637px"></div>
<span class="tab" style="left:647px;letter-spacing:-0.26px">GBPUSD,Weekly</span>
<div class="tsep" style="left:753px"></div>
<span class="tab" style="left:763px;letter-spacing:-0.26px">SP500,H1</span>
<div class="tsep" style="left:829px"></div>
<svg class="abs" style="left:1314px;top:576px" width="34" height="12"><polygon points="8,3 8,9 5,6" fill="#909090"/><polygon points="24,3 24,9 27,6" fill="#909090"/></svg>
<div id="bl1" class="abs"></div><div id="bl2" class="abs"></div><div id="bl3" class="abs"></div>
</body>
</html>
